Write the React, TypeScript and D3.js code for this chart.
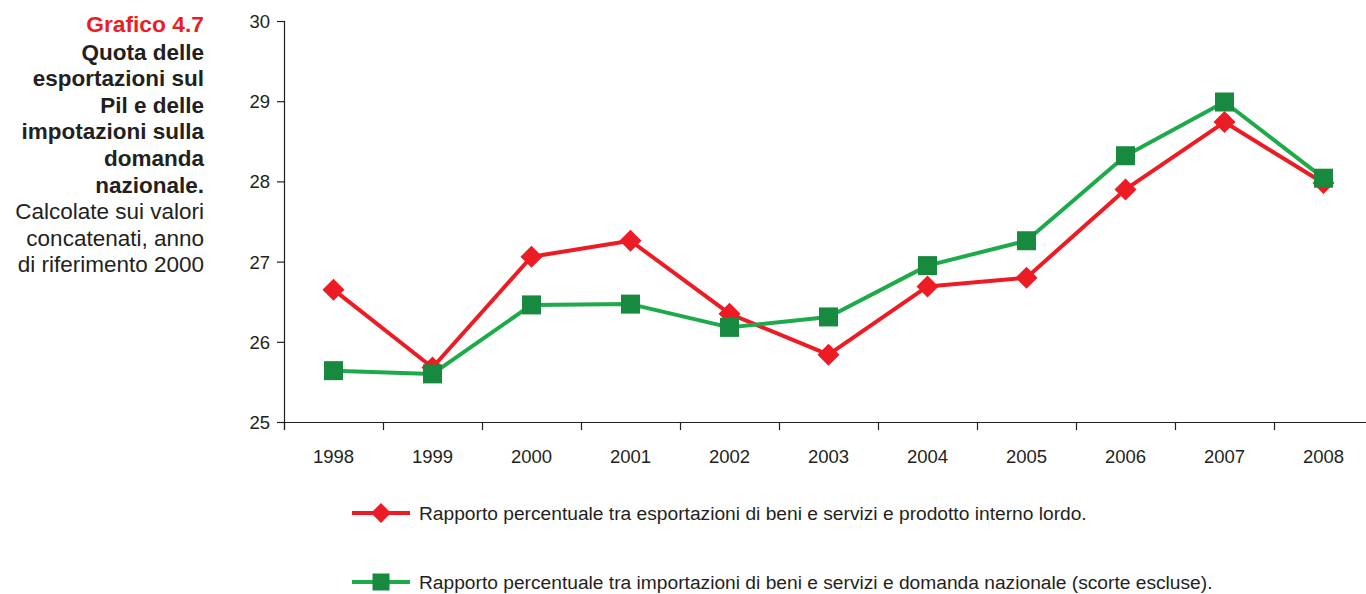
import React from "react";
import * as d3 from "d3";

const years = ["1998","1999","2000","2001","2002","2003","2004","2005","2006","2007","2008"];
const exportsShare = [26.65, 25.68, 27.06, 27.26, 26.35, 25.84, 26.69, 26.8, 27.9, 28.74, 27.98];
const importsShare = [25.64, 25.6, 26.46, 26.47, 26.18, 26.31, 26.95, 27.26, 28.32, 28.99, 28.04];
const yTicks = [25, 26, 27, 28, 29, 30];
const titleLines = ["Quota delle", "esportazioni sul", "Pil e delle", "impotazioni sulla", "domanda", "nazionale."];
const subtitleLines = ["Calcolate sui valori", "concatenati, anno", "di riferimento 2000"];
const legendLabels = [
  "Rapporto percentuale tra esportazioni di beni e servizi e prodotto interno lordo.",
  "Rapporto percentuale tra importazioni di beni e servizi e domanda nazionale (scorte escluse).",
];

const W = 1366, H = 594;
const RED = "#ED1C24";
const GREEN_LINE = "#1DAA4A";
const GREEN_MARK = "#178A3F";
const TEXT = "#231F20";
const FONT = "'Liberation Sans', Arial, Helvetica, sans-serif";

export default function App() {
  const x = d3.scaleBand<string>().domain(years).range([284, 1373]);
  const y = d3.scaleLinear().domain([25, 30]).range([422, 21]);
  const cx = (i: number) => (x(years[i]) as number) + x.bandwidth() / 2;
  const line = d3.line<number>().x((_, i) => cx(i)).y((d) => y(d));
  const diamond = (px: number, py: number, r: number) =>
    `M${px},${py - r}L${px + r},${py}L${px},${py + r}L${px - r},${py}Z`;
  const sq = 19;
  const dr = 11;

  return (
    <svg width={W} height={H} style={{ position: "absolute", left: 0, top: 0, fontFamily: FONT }}>
      <rect width={W} height={H} fill="#fff" />
      {/* Title */}
      <text x={204} y={32} textAnchor="end" fontSize={22.8} fontWeight="bold" fill={RED}>Grafico 4.7</text>
      {titleLines.map((t, i) => (
        <text key={t} x={204} y={59.5 + i * 26.6} textAnchor="end" fontSize={22.5} fontWeight="bold" fill={TEXT}>{t}</text>
      ))}
      {subtitleLines.map((t, i) => (
        <text key={t} x={204} y={219 + i * 26.6} textAnchor="end" fontSize={22.5} fill={TEXT}>{t}</text>
      ))}
      {/* Axes */}
      <line x1={284.5} x2={284.5} y1={21} y2={430} stroke={TEXT} strokeWidth={1.2} />
      <line x1={284} x2={W} y1={422.5} y2={422.5} stroke={TEXT} strokeWidth={1.2} />
      {yTicks.map((v) => (
        <g key={v}>
          <line x1={277} x2={285} y1={y(v) + 0.5} y2={y(v) + 0.5} stroke={TEXT} strokeWidth={1.2} />
          <text x={270} y={y(v) + 7} textAnchor="end" fontSize={18.5} fill={TEXT}>{v}</text>
        </g>
      ))}
      {years.map((yr) => (
        <line key={"t" + yr} x1={(x(yr) as number) + 0.5} x2={(x(yr) as number) + 0.5} y1={422} y2={430} stroke={TEXT} strokeWidth={1.2} />
      ))}
      {years.map((yr, i) => (
        <text key={"l" + yr} x={cx(i)} y={463} textAnchor="middle" fontSize={18.5} fill={TEXT}>{yr}</text>
      ))}
      {/* Series */}
      <path d={line(exportsShare) || ""} fill="none" stroke={RED} strokeWidth={4} strokeLinejoin="round" />
      {exportsShare.map((v, i) => (
        <path key={"d" + i} d={diamond(cx(i), y(v), dr)} fill={RED} />
      ))}
      <path d={line(importsShare) || ""} fill="none" stroke={GREEN_LINE} strokeWidth={4} strokeLinejoin="round" />
      {importsShare.map((v, i) => (
        <rect key={"s" + i} x={cx(i) - sq / 2} y={y(v) - sq / 2} width={sq} height={sq} fill={GREEN_MARK} />
      ))}
      {/* Legend */}
      <line x1={352} x2={410} y1={513} y2={513} stroke={RED} strokeWidth={4} />
      <path d={diamond(381, 513, 10)} fill={RED} />
      <text x={419} y={520} fontSize={19.2} fill={TEXT}>{legendLabels[0]}</text>
      <line x1={352} x2={410} y1={582} y2={582} stroke={GREEN_LINE} strokeWidth={4} />
      <rect x={381 - 8.5} y={582 - 8.5} width={17} height={17} fill={GREEN_MARK} />
      <text x={419} y={589} fontSize={19.2} fill={TEXT}>{legendLabels[1]}</text>
    </svg>
  );
}
